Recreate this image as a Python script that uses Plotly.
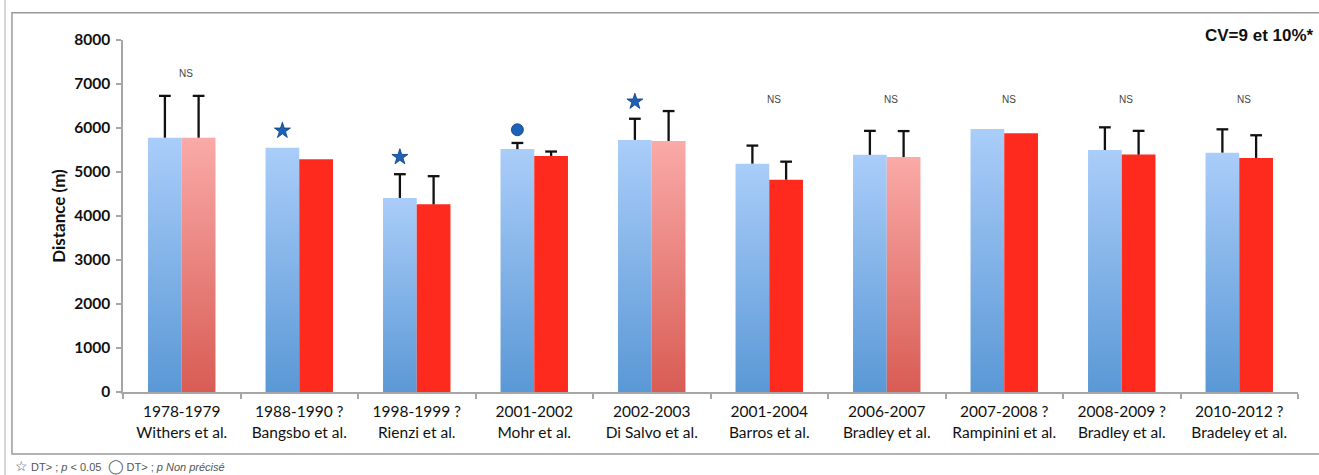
import plotly.graph_objects as go

# Study periods and authors (two-line category labels)
periods = ["1978-1979", "1988-1990 ?", "1998-1999 ?", "2001-2002", "2002-2003",
           "2001-2004", "2006-2007", "2007-2008 ?", "2008-2009 ?", "2010-2012 ?"]
authors = ["Withers et al.", "Bangsbo et al.", "Rienzi et al.", "Mohr et al.", "Di Salvo et al.",
           "Barros et al.", "Bradley et al.", "Rampinini et al.", "Bradley et al.", "Bradeley et al."]

# Distance (m): first half vs second half
first_half = [5780, 5550, 4410, 5520, 5730, 5190, 5390, 5980, 5500, 5440]
second_half = [5780, 5290, 4265, 5365, 5705, 4825, 5340, 5880, 5395, 5320]

# Standard deviations (upper whisker only); None = not reported
first_sd = [950, None, 540, 140, 480, 410, 545, None, 515, 530]
second_sd = [950, None, 640, 100, 680, 410, 590, None, 540, 515]

# Significance marks: "star" = p<0.05, "circle" = p not given, "NS" = not significant
significance = ["NS", "star", "star", "circle", "star", "NS", "NS", "NS", "NS", "NS"]

# Second-half bars drawn in the faded style
faded_second = [True, False, False, False, True, False, True, False, False, False]

BAR_W = 0.287
CAP = 0.05
BLUE_SCALE = [[0, "#5a98d6"], [1, "#aacdf9"]]
PINK_SCALE = [[0, "#d85c54"], [1, "#faaaa8"]]
RED = "#fe2a1e"
LABEL_FONT = "Lato, 'Open Sans', sans-serif"

fig = go.Figure()


def add_bar(x0, x1, value, scale=None, color=None):
    kw = dict(
        x=[x0, x1, x1, x0, x0], y=[0, 0, value, value, 0],
        mode="lines", fill="toself", line=dict(width=0, color="rgba(0,0,0,0)"),
        hoverinfo="skip", showlegend=False,
    )
    if scale is not None:
        kw["fillgradient"] = dict(type="vertical", colorscale=scale, start=0, stop=value)
    else:
        kw["fillcolor"] = color
    fig.add_trace(go.Scatter(**kw))


for i in range(len(periods)):
    add_bar(i - BAR_W, i, first_half[i], scale=BLUE_SCALE)
    if faded_second[i]:
        add_bar(i, i + BAR_W, second_half[i], scale=PINK_SCALE)
    else:
        add_bar(i, i + BAR_W, second_half[i], color=RED)

# Upper error whiskers (stem + cap, no lower cap)
wx, wy = [], []
for i in range(len(periods)):
    for off, val, sd in ((-BAR_W / 2, first_half[i], first_sd[i]),
                         (BAR_W / 2, second_half[i], second_sd[i])):
        if sd is not None:
            c = i + off
            wx += [c, c, None, c - CAP, c + CAP, None]
            wy += [val, val + sd, None, val + sd, val + sd, None]
fig.add_trace(go.Scatter(
    x=wx, y=wy, mode="lines", line=dict(color="#111111", width=2.3),
    hoverinfo="skip", showlegend=False,
))

# Significance markers above the first-half bars
for sym in ("star", "circle"):
    xs, ys = [], []
    for i, s in enumerate(significance):
        if s == sym:
            xs.append(i - BAR_W / 2)
            ys.append(first_half[i] + (first_sd[i] or 0) + (390 if sym == "star" else 300))
    fig.add_trace(go.Scatter(
        x=xs, y=ys, mode="markers",
        marker=dict(symbol=sym, size=12, color="#1c62b8",
                    line=dict(color="#0d3a78", width=0.8)),
        hoverinfo="skip", showlegend=False,
    ))

annotations = []
for i, s in enumerate(significance):
    if s == "NS":
        top = max(first_half[i] + (first_sd[i] or 0), second_half[i] + (second_sd[i] or 0))
        annotations.append(dict(
            x=i + 0.04, y=max(6640, top + 500), xref="x", yref="y", text="NS",
            showarrow=False, font=dict(family="Liberation Sans, Arial", size=10, color="#444444"),
        ))

annotations.append(dict(
    x=1.0153, y=1.014, xref="paper", yref="paper", xanchor="right", yanchor="middle",
    text="<b>CV=9 et 10%*</b>", showarrow=False,
    font=dict(family="Liberation Sans, Arial", size=17, color="#111111"),
))
annotations.append(dict(
    x=-0.0935, y=-0.213, xref="paper", yref="paper", xanchor="left", yanchor="middle",
    text=("<span style='font-size:14px'>☆</span> DT&gt; ; <i>p</i> &lt; 0.05  "
          "<span style='font-size:14px'>◯</span> DT&gt; ; <i>p Non précisé</i>"),
    showarrow=False,
    font=dict(family="Liberation Sans, Arial", size=11, color="#555555"),
))

shapes = [
    # chart frame
    dict(type="rect", xref="paper", yref="paper", x0=-0.0945, x1=1.03, y0=-0.176, y1=1.0775,
         line=dict(color="#9a9a9a", width=1.5), fillcolor="rgba(0,0,0,0)", layer="below"),
    # page edge line on the left
    dict(type="line", xref="paper", yref="paper", x0=-0.1004, x1=-0.1004, y0=-0.25, y1=1.12,
         line=dict(color="#bdbdbd", width=1.2)),
]

fig.update_layout(
    width=1319, height=475,
    margin=dict(l=123, r=21, t=40, b=83),
    paper_bgcolor="white", plot_bgcolor="white",
    annotations=annotations, shapes=shapes,
    xaxis=dict(
        range=[-0.5, 9.5], tickmode="array", tickvals=list(range(len(periods))),
        ticktext=[f"{p}<br>{a}" for p, a in zip(periods, authors)],
        ticks="", showgrid=False, zeroline=False,
        showline=True, linecolor="#a6a6a6", linewidth=1.5,
        ticklabelstandoff=5,
        tickfont=dict(family=LABEL_FONT, size=15.5, color="#111111"),
        minor=dict(tickmode="linear", tick0=0.5, dtick=1, ticks="outside",
                   ticklen=5, tickcolor="#a6a6a6", tickwidth=1.5),
    ),
    yaxis=dict(
        range=[0, 8000], dtick=1000, showgrid=False, zeroline=False,
        showline=True, linecolor="#a6a6a6", linewidth=1.5,
        ticks="outside", ticklen=5, tickcolor="#a6a6a6", tickwidth=1.5,
        ticklabelstandoff=3,
        tickfont=dict(family=LABEL_FONT, size=15.5, color="#111111", weight="bold"),
        title=dict(text="<b>Distance (m)</b>", standoff=4,
                   font=dict(family=LABEL_FONT, size=17, color="#111111")),
    ),
)

fig.write_html("out.html")
